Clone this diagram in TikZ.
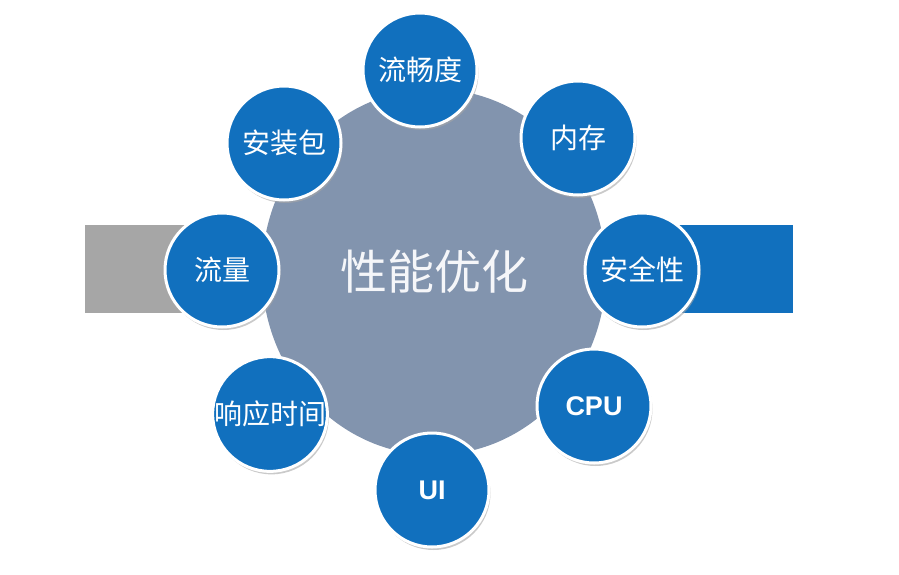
\documentclass[tikz,border=0pt]{standalone}
\usepackage{fontspec}
\newfontfamily\cjk{Noto Sans CJK SC}
\newfontfamily\latinbold{Liberation Sans}
\usetikzlibrary{shapes.geometric,shadows}

\definecolor{perfBlue}{HTML}{1170BE}
\definecolor{perfSlate}{HTML}{8294AE}
\definecolor{perfGrey}{HTML}{A6A6A6}

\begin{document}
\begin{tikzpicture}[
							x=1pt, y=-1pt,
							nodeCenter/.style={ellipse, fill=perfSlate, inner sep=0pt, minimum width=344pt, minimum height=366pt, text=white!92!perfSlate, font=\cjk\fontsize{47}{50}\selectfont},
							nodeItem/.style={circle, fill=perfBlue, draw=white, line width=3pt, inner sep=0pt, minimum size=114pt, text=white, font=\cjk\fontsize{28}{30}\selectfont, drop shadow={shadow xshift=1.5pt, shadow yshift=-3pt, fill=black!35, opacity=0.6}},
							nodeLatin/.style={nodeItem, font=\latinbold\bfseries\fontsize{27}{30}\selectfont}
						]
						
						\useasboundingbox (0,0) rectangle (899,574);
						
						% side bars
						\fill[perfGrey] (85,225) rectangle (210,313);
						\fill[perfBlue] (660,225) rectangle (793,313);
						
						\node[nodeCenter] (nodePerf) at (434,272) {性能优化};
						
						\node[nodeItem] (nodeSmooth) at (420,70) {流畅度};
						\node[nodeItem] (nodeMemory) at (578,138) {内存};
						\node[nodeItem] (nodeSecurity) at (642,270) {安全性};
						\node[nodeLatin] (nodeCpu) at (594,406) {CPU};
						\node[nodeLatin] (nodeUi) at (432,490) {UI};
						\node[nodeItem] (nodeResponse) at (270,414) {响应时间};
						\node[nodeItem] (nodeTraffic) at (222,270) {流量};
						\node[nodeItem] (nodePackage) at (284,143) {安装包};
					\end{tikzpicture}
\end{document}
